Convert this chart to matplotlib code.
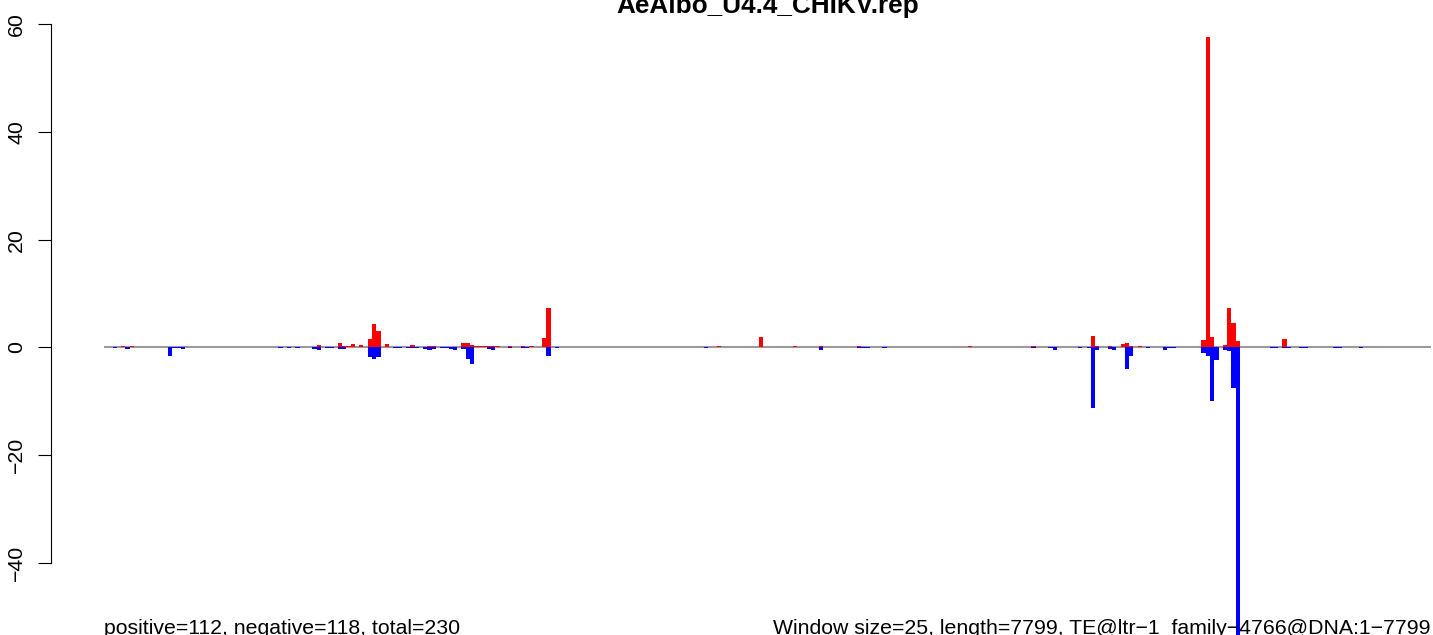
import numpy as np
import matplotlib
matplotlib.use("Agg")
import matplotlib.pyplot as plt

# ---------------- data ----------------
title = "AeAlbo_U4.4_CHIKV.rep"
n_windows = 312  # 7799 / 25
left_note = "positive=112, negative=118, total=230"
right_note = "Window size=25, length=7799, TE@ltr\u22121_family\u22124766@DNA:1\u22127799"

pos_windows = [4, 6, 31, 37, 50, 54, 55, 56, 57, 58, 60, 62, 63, 64, 65, 66, 72, 76, 77,
               84, 85, 86, 87, 88, 89, 90, 91, 92, 93, 94, 95, 98, 100, 103, 104, 121,
               126, 133, 144, 154, 162, 168, 177, 203, 215, 218, 219, 232, 233, 236,
               239, 240, 241, 243, 257, 258, 259, 260, 261, 263, 264, 265, 266, 273,
               274, 276, 277, 279, 280, 281, 297, 301, 303, 306, 309, 310, 311]
pos_values = [0.15, 0.15, 0.1, 0.1, 0.35, 0.1, 0.75, 0.2, 0.15, 0.55, 0.4, 1.5, 4.3, 3.0,
              0.1, 0.55, 0.37, 0.15, 0.15, 0.75, 0.75, 0.37, 0.15, 0.15, 0.15, 0.15,
              0.15, 0.15, 0.05, 0.05, 0.15, 0.15, 0.15, 1.65, 7.25, 0.05, 0.05, 0.05,
              0.15, 2.0, 0.15, 0.15, 0.15, 0.15, 0.05, 0.15, 0.05, 2.04, 0.15, 0.15,
              0.55, 0.75, 0.15, 0.15, 0.05, 1.4, 57.7, 2.0, 0.12, 0.5, 7.35, 4.5, 1.2,
              0.1, 0.1, 0.1, 1.55, 0.05, 0.05, 0.12, 0.05, 0.05, 0.05, 0.05, 0.05,
              0.05, 0.05]

neg_windows = [2, 5, 15, 16, 17, 18, 41, 43, 45, 49, 50, 52, 53, 55, 56, 62, 63, 64, 68,
               69, 71, 72, 73, 75, 76, 77, 79, 80, 81, 82, 84, 85, 86, 90, 91, 95, 98,
               99, 104, 106, 141, 168, 177, 178, 179, 183, 218, 222, 223, 229, 231, 232,
               233, 236, 237, 240, 241, 245, 249, 250, 251, 258, 259, 260, 261, 263,
               264, 265, 266, 274, 275, 277, 278, 281, 282, 289, 290, 295]
neg_values = [-0.1, -0.35, -1.6, -0.1, -0.1, -0.35, -0.1, -0.1, -0.1, -0.35, -0.5, -0.1,
              -0.1, -0.37, -0.37, -1.85, -2.2, -1.85, -0.1, -0.1, -0.1, -0.1, -0.1, -0.3,
              -0.55, -0.3, -0.1, -0.1, -0.3, -0.5, -0.37, -2.2, -3.1, -0.35, -0.55, -0.1,
              -0.1, -0.1, -1.65, -0.1, -0.1, -0.55, -0.1, -0.1, -0.1, -0.1, -0.1, -0.1,
              -0.55, -0.1, -0.1, -11.3, -0.55, -0.35, -0.55, -4.1, -1.67, -0.1, -0.55,
              -0.1, -0.1, -1.0, -1.7, -9.9, -2.3, -0.45, -0.6, -7.5, -58.0, -0.1, -0.1,
              -0.1, -0.1, -0.1, -0.1, -0.1, -0.1, -0.1]

y_ticks = [-40, -20, 0, 20, 40, 60]

# ---------------- build arrays ----------------
pos = np.zeros(n_windows)
neg = np.zeros(n_windows)
pos[pos_windows] = pos_values
neg[neg_windows] = neg_values
x = np.arange(n_windows)

# ---------------- figure ----------------
W, H, DPI = 1433, 635, 100
plt.rcParams['font.family'] = ['Liberation Sans', 'DejaVu Sans']
fig = plt.figure(figsize=(W / DPI, H / DPI), dpi=DPI)

px_left, px_right = 104.0, 1431.2
ax = fig.add_axes([px_left / W, 0.0, (px_right - px_left) / W, 1.0])
ax.set_xlim(0, n_windows)
ax.set_ylim(-53.44, 64.51)
ax.patch.set_visible(False)

ax.hlines(0, 0, n_windows, color='#9a9a9a', linewidth=1.5, zorder=1)
ax.bar(x, pos, width=1.0, align='edge', color='#ff0000', linewidth=0, zorder=2)
ax.bar(x, neg, width=1.0, align='edge', color='#0000ff', linewidth=0, zorder=2)

for s in ['top', 'right', 'bottom']:
    ax.spines[s].set_visible(False)
ax.spines['left'].set_position(('outward', (px_left - 50.7) * 72 / DPI))
ax.spines['left'].set_bounds(-40, 60)
ax.spines['left'].set_linewidth(0.8)
ax.set_xticks([])
ax.set_yticks(y_ticks)
ax.set_yticklabels([str(t).replace('-', '\u2212') for t in y_ticks],
                   rotation=90, va='center', fontsize=15.3)
ax.tick_params(axis='y', length=9.7, width=0.8, pad=8.0)

fig.text(767.5 / W, 1 - 12.5 / H, title, ha='center', va='baseline',
         fontsize=18.8, fontweight='bold')
fig.text(px_left / W, 1 - 633.5 / H, left_note, ha='left', va='baseline', fontsize=15.3)
fig.text(1430.5 / W, 1 - 633.5 / H, right_note, ha='right', va='baseline', fontsize=15.3)

fig.savefig('out.png', dpi=DPI)
